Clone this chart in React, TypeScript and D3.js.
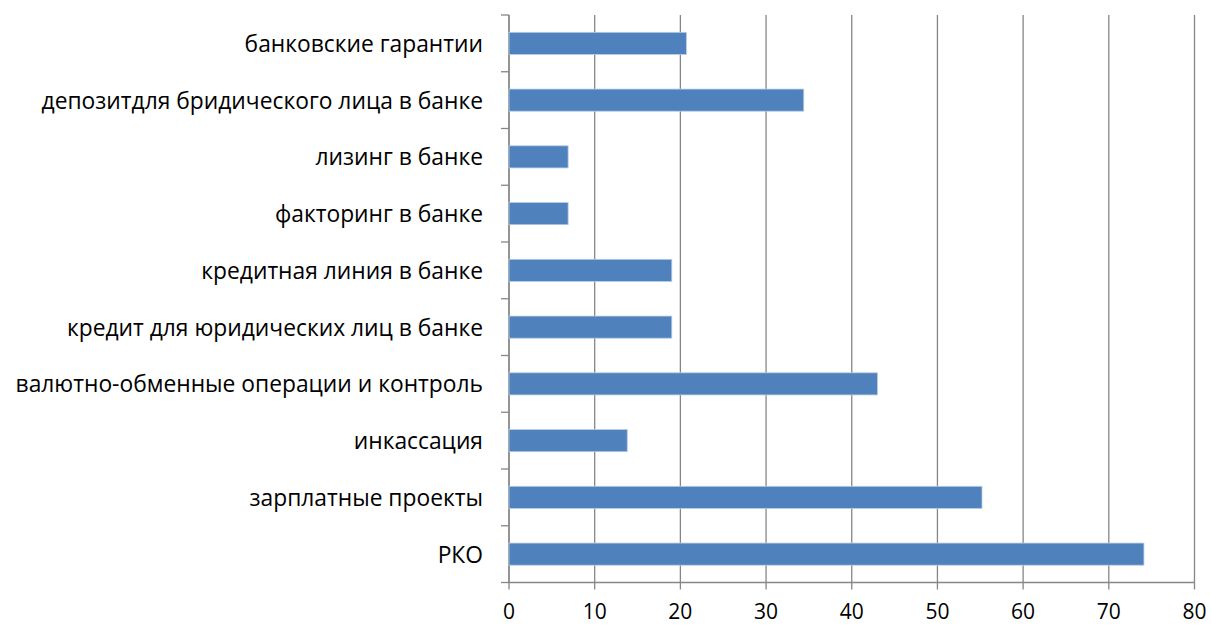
import React from "react";
import * as d3 from "d3";

const categories: string[] = [
  "РКО",
  "зарплатные проекты",
  "инкассация",
  "валютно-обменные операции и контроль",
  "кредит для юридических лиц в банке",
  "кредитная линия в банке",
  "факторинг в банке",
  "лизинг в банке",
  "депозитдля бридического лица в банке",
  "банковские гарантии",
];
const values: number[] = [74.1, 55.2, 13.8, 43.0, 19.0, 19.0, 6.9, 6.9, 34.4, 20.7];
const xTicks: number[] = [0, 10, 20, 30, 40, 50, 60, 70, 80];

const W = 1211;
const H = 625;
const M = { left: 509, right: 1194.5, top: 15, bottom: 582.5 };
const FONT = "'Open Sans', sans-serif";

export default function App() {
  const x = d3.scaleLinear().domain([0, 80]).range([M.left, M.right]);
  // bottom-to-top order
  const y = d3
    .scaleBand<string>()
    .domain(categories)
    .range([M.bottom, M.top])
    .padding(0);
  const step = y.step();
  const barH = step * 0.39;
  const gridColor = "#868686";

  const boundaries = d3.range(categories.length + 1).map((i) => M.bottom - i * step);

  return (
    <svg width={W} height={H} style={{ position: "absolute", left: 0, top: 0, display: "block" }}>
      <rect x={0} y={0} width={W} height={H} fill="#fff" />
      {/* vertical gridlines */}
      {xTicks.map((t) => (
        <line key={"g" + t} x1={x(t)} x2={x(t)} y1={M.top} y2={M.bottom} stroke={gridColor} strokeWidth={1.3} />
      ))}
      {/* x-axis tick marks */}
      {xTicks.map((t) => (
        <line key={"xt" + t} x1={x(t)} x2={x(t)} y1={M.bottom} y2={M.bottom + 7} stroke={gridColor} strokeWidth={1.3} />
      ))}
      {/* bottom axis line */}
      <line x1={M.left} x2={M.right} y1={M.bottom} y2={M.bottom} stroke={gridColor} strokeWidth={1.3} />
      {/* y-axis line and ticks */}
      <line x1={M.left} x2={M.left} y1={M.top} y2={M.bottom} stroke={gridColor} strokeWidth={1.3} />
      {boundaries.map((b, i) => (
        <line key={"yt" + i} x1={M.left - 8} x2={M.left} y1={b} y2={b} stroke={gridColor} strokeWidth={1.3} />
      ))}
      {/* bars */}
      {categories.map((c, i) => {
        const cy = (y(c) as number) + step / 2;
        return (
          <rect
            key={"b" + c}
            x={x(0)}
            y={cy - barH / 2}
            width={x(values[i]) - x(0)}
            height={barH}
            fill="#4F81BD"
            stroke="#B9CDE5"
            strokeWidth={0.8}
          />
        );
      })}
      {/* category labels */}
      {categories.map((c) => {
        const cy = (y(c) as number) + step / 2;
        return (
          <text
            key={"l" + c}
            x={M.left - 26}
            y={cy}
            textAnchor="end"
            dominantBaseline="central"
            fontFamily={FONT}
            fontSize={22.8}
            fill="#000"
          >
            {c}
          </text>
        );
      })}
      {/* x tick labels */}
      {xTicks.map((t) => (
        <text
          key={"xl" + t}
          x={x(t)}
          y={611}
          textAnchor="middle"
          dominantBaseline="central"
          fontFamily={FONT}
          fontSize={21}
          fill="#000"
        >
          {t}
        </text>
      ))}
    </svg>
  );
}
